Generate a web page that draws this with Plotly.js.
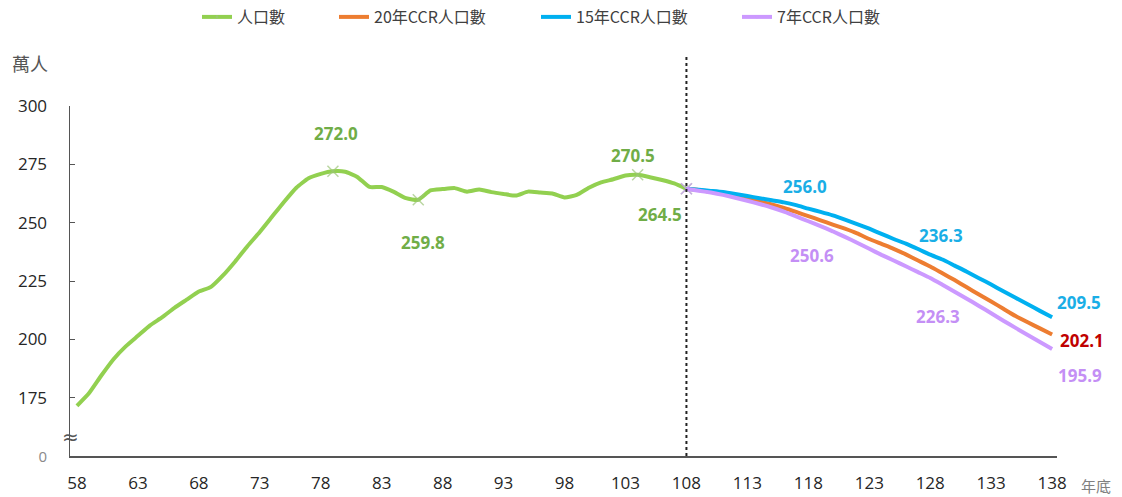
<!DOCTYPE html>
<html><head><meta charset="utf-8">
<script src="https://cdn.plot.ly/plotly-3.0.1.min.js"></script>
<style>html,body{margin:0;padding:0;background:#fff}#chart{width:1122px;height:497px}</style>
</head><body><div id="chart"></div>
<script>
// Historical population (萬人), ROC years 58-108
const histYears = [58,59,60,61,62,63,64,65,66,67,68,69,70,71,72,73,74,75,76,77,78,79,80,81,82,83,84,85,86,87,88,89,90,91,92,93,94,95,96,97,98,99,100,101,102,103,104,105,106,107,108];
const histPop = [171.5,177.0,184.5,191.5,197.0,201.5,206.0,209.5,213.5,217.0,220.5,222.5,227.5,233.5,240.0,246.0,252.5,259.0,265.0,269.0,270.9,272.0,271.8,269.6,265.3,265.3,263.2,260.5,259.8,263.8,264.4,264.8,263.3,264.2,263.1,262.3,261.6,263.3,262.9,262.5,260.8,261.9,265.0,267.3,268.6,270.2,270.5,269.5,268.3,266.8,264.5];
// Projections, ROC years 108-138
const projYears = [108,109,110,111,112,113,114,115,116,117,118,119,120,121,122,123,124,125,126,127,128,129,130,131,132,133,134,135,136,137,138];
const ccr20 = [264.5,264.0,263.2,262.4,261.4,260.3,259.1,257.8,256.3,254.6,252.8,251.0,249.2,247.4,245.4,243.0,240.9,238.8,236.4,233.8,231.2,228.3,225.4,222.3,219.2,216.2,213.1,210.0,207.3,204.7,202.1];
const ccr15 = [264.5,264.1,263.6,263.1,262.3,261.4,260.5,259.6,258.7,257.5,256.0,254.6,253.1,251.3,249.4,247.4,245.2,243.0,241.0,238.7,236.3,234.2,231.6,229.0,226.2,223.5,220.6,217.8,215.0,212.2,209.5];
const ccr7 = [264.5,263.7,262.9,261.9,260.7,259.4,258.0,256.5,254.7,252.7,250.6,248.5,246.3,243.9,241.4,238.8,236.2,233.8,231.3,228.8,226.3,223.4,220.4,217.4,214.3,211.2,208.0,204.9,201.9,198.9,195.9];
const seriesNames = ['人口數','20年CCR人口數','15年CCR人口數','7年CCR人口數'];
const markedYears = [79,86,104,108];
const yTickVals = [150,175,200,225,250,275,300];
const yTickText = ['<span style="color:#8a8a8a;font-size:15px">0</span>','175','200','225','250','275','300'];

const GREEN='#92D050', ORANGE='#ED7D31', BLUE='#00B0F0', PURPLE='#CC99FF';
const lineShape = {shape:'spline', smoothing:0.5};

const traces = [
  {x:histYears, y:histPop, name:seriesNames[0], legend:'legend', mode:'lines+markers',
   line:Object.assign({color:GREEN,width:4},lineShape),
   marker:{symbol:'x-thin-open', size:histYears.map(v=>markedYears.includes(v)?11:0), color:'#9DC47A', line:{width:1.5,color:'#9DC47A'}}},
  {x:projYears, y:ccr20, name:seriesNames[1], legend:'legend2', mode:'lines', line:Object.assign({color:ORANGE,width:4},lineShape)},
  {x:projYears, y:ccr15, name:seriesNames[2], legend:'legend3', mode:'lines', line:Object.assign({color:BLUE,width:4},lineShape)},
  {x:projYears, y:ccr7, name:seriesNames[3], legend:'legend4', mode:'lines+markers', line:Object.assign({color:PURPLE,width:4},lineShape),
   marker:{symbol:'x-thin-open', size:projYears.map(v=>v===108?11:0), color:PURPLE, line:{width:1.5,color:PURPLE}}}
];

const LG='#70AD47', LB='#1AAEE6', LP='#C48FF5', LR='#C00000';
const lblFont = (c)=>({family:'Open Sans, sans-serif', size:17, color:c, weight:'bold'});
function ann(x,y,t,c){return {x:x,y:y,xref:'x',yref:'y',xanchor:'center',yanchor:'middle',text:'<b>'+t+'</b>',showarrow:false,font:lblFont(c)};}
function annP(x,y,t,c){return {x:x,y:y,xref:'paper',yref:'y',xanchor:'center',yanchor:'middle',text:'<b>'+t+'</b>',showarrow:false,font:lblFont(c)};}

const annotations = [
  ann(79.25,288.4,'272.0',LG),
  ann(86.38,241.7,'259.8',LG),
  ann(103.61,278.6,'270.5',LG),
  ann(105.83,253.3,'264.5',LG),
  ann(117.72,265.3,'256.0',LB),
  ann(128.88,244.7,'236.3',LB),
  ann(118.30,236.1,'250.6',LP),
  ann(128.63,209.6,'226.3',LP),
  annP(1.0223,216.0,'209.5',LB),
  annP(1.0253,199.3,'202.1',LR),
  annP(1.0233,184.7,'195.9',LP),
  {xref:'paper',yref:'y',x:0,xanchor:'center',yanchor:'middle',y:158.1,text:'≈',showarrow:false,font:{size:20,color:'#555',family:'DejaVu Sans'}},
  {xref:'paper',yref:'paper',x:-0.0405,y:1.123,xanchor:'center',yanchor:'middle',text:'萬人',showarrow:false,font:{family:'Noto Sans CJK TC, sans-serif',size:18,color:'#555'}},
  {xref:'paper',yref:'paper',x:1.0395,y:-0.083,xanchor:'center',yanchor:'middle',text:'年底',showarrow:false,font:{family:'Noto Sans CJK TC, sans-serif',size:15,color:'#808080'}}
];

const legFont = {family:'Noto Sans CJK TC, sans-serif', size:16, color:'#404040'};
function leg(px){return {orientation:'h', x:px/1122, xanchor:'left', xref:'container', y:1-17/497, yref:'container', yanchor:'middle', font:legFont, bgcolor:'rgba(0,0,0,0)'};}

const layout = {
  width:1122, height:497,
  margin:{l:70,r:65,t:106,b:41},
  paper_bgcolor:'#fff', plot_bgcolor:'#fff',
  font:{family:'Open Sans, Noto Sans CJK TC, sans-serif', color:'#333'},
  showlegend:true,
  legend:leg(197), legend2:leg(334), legend3:leg(536), legend4:leg(737),
  xaxis:{range:[57.43,138.4], tick0:58, dtick:5, tickmode:'linear', showgrid:false, zeroline:false,
         showline:true, linecolor:'#555', linewidth:1.5, ticks:'', tickfont:{size:17,color:'#262626'}, ticklabelstandoff:11},
  yaxis:{range:[150,300], tickmode:'array', tickvals:yTickVals, ticktext:yTickText, showgrid:false, zeroline:false,
         showline:true, linecolor:'#555', linewidth:1.5, ticks:'inside', ticklen:5, tickcolor:'#555',
         tickfont:{size:17,color:'#262626'}, ticklabelstandoff:18},
  shapes:[{type:'line', xref:'x', yref:'paper', x0:108, x1:108, y0:0, y1:1.146, line:{color:'#222', width:2, dash:'dot'}}],
  annotations:annotations
};
Plotly.newPlot('chart', traces, layout, {displayModeBar:false, staticPlot:true});
</script></body></html>
